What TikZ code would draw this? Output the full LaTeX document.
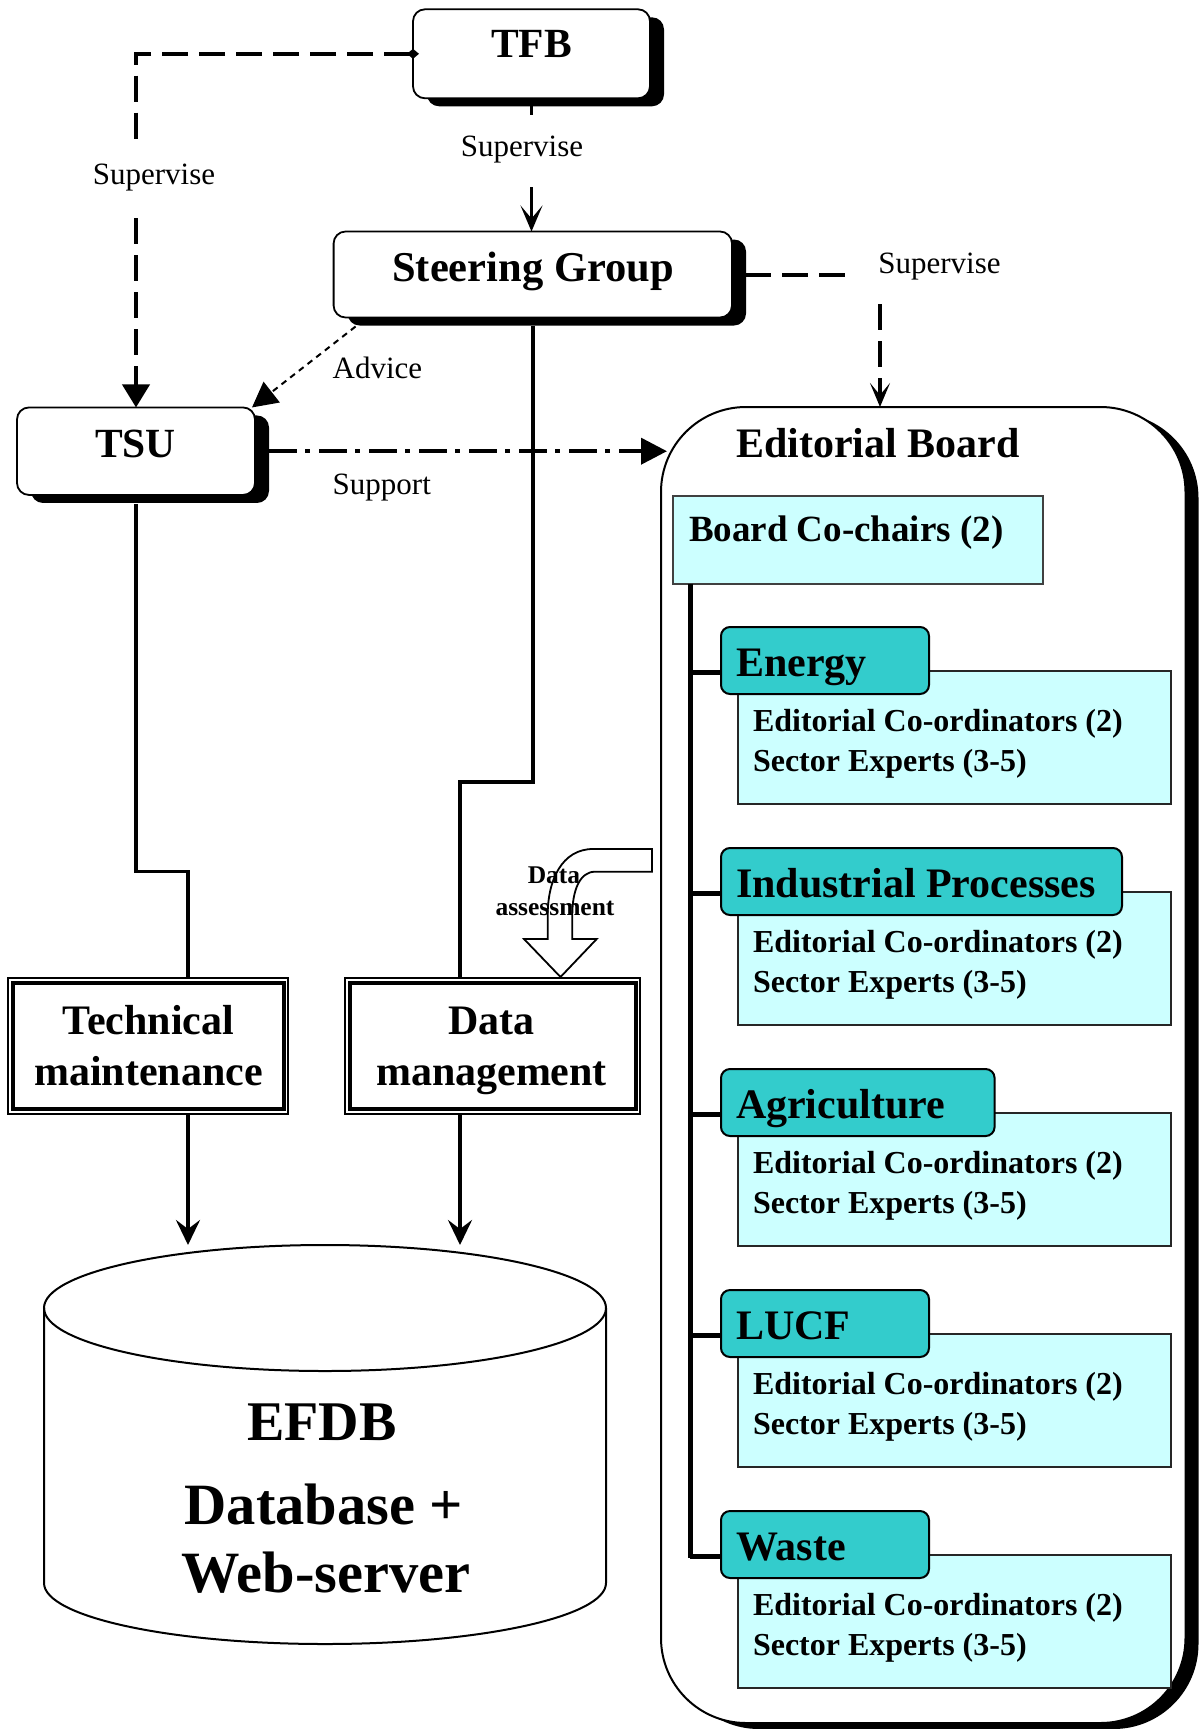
\documentclass[tikz,border=0pt]{standalone}
\usepackage{fontspec}
\setmainfont{Liberation Serif}
\usetikzlibrary{arrows.meta,shadows}
\definecolor{tabfill}{RGB}{51,204,204}
\definecolor{boxfill}{RGB}{204,255,255}
\newcommand{\fsz}[1]{\fontsize{#1}{#1}\selectfont}
\begin{document}
\begin{tikzpicture}[x=1pt,y=-1pt,
  every node/.style={inner sep=0pt,outer sep=0pt},
  shadowbox/.style={draw,line width=1.8pt,fill=white,rounded corners=12pt,
     general shadow={fill=black,shadow xshift=14pt,shadow yshift=-8pt}},
  boardbox/.style={draw,line width=2pt,fill=white,rounded corners=85pt,
     general shadow={fill=black,shadow xshift=13pt,shadow yshift=-6pt}},
  outerbox/.style={draw,line width=2pt,fill=white},
  innerbox/.style={draw,line width=4pt},
  chairbox/.style={draw=black!75,line width=1.8pt,fill=boxfill},
  membox/.style={draw=black!85,line width=2pt,fill=boxfill},
  tabbox/.style={draw,line width=2pt,fill=tabfill,rounded corners=9pt},
  title/.style={anchor=base,font=\fsz{41.5}\bfseries},
  lab/.style={anchor=base,font=\fsz{31}},
  memtext/.style={anchor=base west,font=\fsz{32}\bfseries},
  tabtext/.style={anchor=base west,font=\fsz{42}\bfseries},
  conn/.style={line width=3.5pt},
  thinconn/.style={line width=3pt},
  superv/.style={line width=4pt,dash pattern=on 26pt off 11pt},
  advice/.style={line width=2pt,dash pattern=on 6pt off 5pt},
  support/.style={line width=4pt,dash pattern=on 28pt off 8pt on 5pt off 9pt},
  spine/.style={line width=5pt},
  barb/.style={-{Stealth[length=25pt,width=24pt,inset=9pt]}},
  slimbarb/.style={-{Stealth[length=26pt,width=22pt,inset=13pt]}},
  tri/.style={-{Triangle[length=25pt,width=26pt]}}
]
\useasboundingbox (0,0) rectangle (1200,1729);

% ---------- Editorial board ----------
\node[boardbox,minimum width=524.5pt,minimum height=1316pt] (eb) at (923.25,1065) {};
\node[title,font=\fsz{42}\bfseries] (ebt) at (878,457) {Editorial Board};
\node[chairbox,minimum width=370pt,minimum height=88pt] (bcc) at (858,539.6) {};
\node[anchor=base west,font=\fsz{37}\bfseries] (bcct) at (689,541) {Board Co-chairs (2)};

\coordinate (sp0) at ([xshift=17pt]bcc.south west);
\coordinate (sp1) at (690,1558);
\draw[spine] (sp0) -- (sp1);

\foreach \i/\nm/\w in {0/Energy/208pt,1/Industrial Processes/401pt,2/Agriculture/273.6pt,3/LUCF/208pt,4/Waste/208pt}{
  \pgfmathsetmacro{\T}{627+221*\i}
  \node[membox,minimum width=433.3pt,minimum height=133pt,anchor=north west] (mem\i) at (737.7,\T+44) {};
  \node[tabbox,minimum width=\w,minimum height=67pt,anchor=north west] (tab\i) at (721,\T) {};
  \node[tabtext] (tabt\i) at (736,\T+49) {\nm};
  \node[memtext] (memA\i) at (753,\T+104.7) {Editorial Co-ordinators (2)};
  \node[memtext] (memB\i) at (753,\T+144.7) {Sector Experts (3-5)};
  \coordinate (j\i) at (690,\T+45);
  \draw[spine] (j\i) -- (tab\i.west |- j\i);
}

% ---------- top boxes ----------
\node[shadowbox,minimum width=237pt,minimum height=89pt] (tfb) at (531.5,53.8) {};
\node[title] (tfbt) at (531.5,57) {TFB};
\node[shadowbox,minimum width=398.4pt,minimum height=86pt] (sg) at (532.8,274.5) {};
\node[title,font=\fsz{42.5}\bfseries] (sgt) at (533,281) {Steering Group};
\node[shadowbox,minimum width=238pt,minimum height=87.5pt] (tsu) at (136,451.2) {};
\node[title] (tsut) at (135.5,457) {TSU};

% ---------- double boxes ----------
\node[outerbox,minimum width=280pt,minimum height=136pt] (tmo) at (148,1046) {};
\node[innerbox,minimum width=270.5pt,minimum height=126pt] (tmi) at (148.25,1046) {};
\node[title,font=\fsz{42}\bfseries] (tmt1) at (148.5,1034) {Technical};
\node[title,font=\fsz{42}\bfseries] (tmt2) at (148.5,1085) {maintenance};
\node[outerbox,minimum width=295pt,minimum height=136pt] (dmo) at (492.5,1046) {};
\node[innerbox,minimum width=285.5pt,minimum height=126pt] (dmi) at (492.75,1046) {};
\node[title,font=\fsz{42}\bfseries] (dmt1) at (491.5,1034) {Data};
\node[title,font=\fsz{42}\bfseries] (dmt2) at (491.5,1085) {management};

% ---------- cylinder ----------
\coordinate (cyl) at (325,1308);
\draw[line width=2pt,fill=white] (44,1308) -- (44,1583)
   arc[start angle=180,end angle=360,x radius=281pt,y radius=61pt] -- (606,1308);
\draw[line width=2pt] (cyl) ellipse[x radius=281pt,y radius=63pt];
\node[title,font=\fsz{56}\bfseries] (efdb) at (322,1440) {EFDB};
\node[title,font=\fsz{58.5}\bfseries] (dbt1) at (324,1524.6) {Database +};
\node[title,font=\fsz{58.5}\bfseries] (dbt2) at (326,1592.4) {Web-server};

% ---------- connectors ----------
% TFB -> TSU (Supervise)
\coordinate (c1) at (136,53.8);
\coordinate (c1a) at (136,143);
\coordinate (c1b) at (136,218);
\draw[superv,{Diamond[length=12pt,width=10pt]}-] ([xshift=6pt]tfb.west) -- (c1) -- (c1a);
\draw[superv,-{Triangle[length=23pt,width=27pt]}] (c1b) -- (tsu.north);
\node[lab] (l1) at (154,184) {Supervise};

% TFB -> Steering Group (Supervise)
\coordinate (c2a) at (531.5,115);
\coordinate (c2b) at (531.5,187);
\draw[thinconn] ([yshift=-8pt]tfb.south) -- (c2a);
\draw[thinconn,slimbarb] (c2b) -- (c2b |- sg.north);
\node[lab] (l2) at (522,156) {Supervise};

% Steering Group -> Editorial Board (Supervise)
\coordinate (c3a) at (853,274.5);
\coordinate (c3b) at (880,304);
\draw[superv] ([xshift=13pt]sg.east) -- (c3a);
\draw[line width=3.5pt,dash pattern=on 26pt off 11pt,-{Stealth[length=24pt,width=20pt,inset=12pt]}] (c3b) -- (c3b |- eb.north);
\node[lab] (l3) at (939.5,273) {Supervise};

% Advice
\draw[advice,tri] ([shift={(22pt,-9pt)}]sg.south west) -- ([xshift=-3pt]tsu.north east);
\node[lab,anchor=base west] (l4) at (332.7,378.3) {Advice};

% Support
\draw[support,-{Triangle[length=26pt,width=26pt]}] ([xshift=14pt]tsu.east) -- ([xshift=6pt]eb.west |- tsu.east);
\node[lab,anchor=base west] (l5) at (332.7,494.3) {Support};

% TSU -> Technical maintenance
\coordinate (c4a) at (136,871.7);
\coordinate (c4b) at (188,871.7);
\draw[conn] ([yshift=-9pt]tsu.south) -- (c4a) -- (c4b) -- (c4b |- tmo.north);

% Steering Group -> Data management
\coordinate (c5a) at (532.8,781.8);
\coordinate (c5b) at (460,781.8);
\draw[conn] ([yshift=-8pt]sg.south) -- (c5a) -- (c5b) -- (c5b |- dmo.north);

% to the database
\coordinate (cyl1) at (188,1245);
\coordinate (cyl2) at (460,1245);
\draw[conn,barb] (c4b |- tmo.south) -- (cyl1);
\draw[conn,barb] (c5b |- dmo.south) -- (cyl2);

% Data assessment block arrow
\draw[line width=1.8pt,fill=white,line join=miter]
  (652,849) -- (593,849) .. controls (562,849) and (547.7,880) .. (547.7,915)
  -- (547.7,939) -- (524,939) -- (560.5,977) -- (596.7,939) -- (572.3,939)
  -- (572.3,915) .. controls (572.3,890) and (580,871.7) .. (595,871.7)
  -- (652,871.7) -- cycle;
\node[anchor=base,font=\fsz{25.5}\bfseries] (da1) at (554,883.3) {Data};
\node[anchor=base,font=\fsz{25.5}\bfseries] (da2) at (555,915) {assessment};
\end{tikzpicture}
\end{document}
